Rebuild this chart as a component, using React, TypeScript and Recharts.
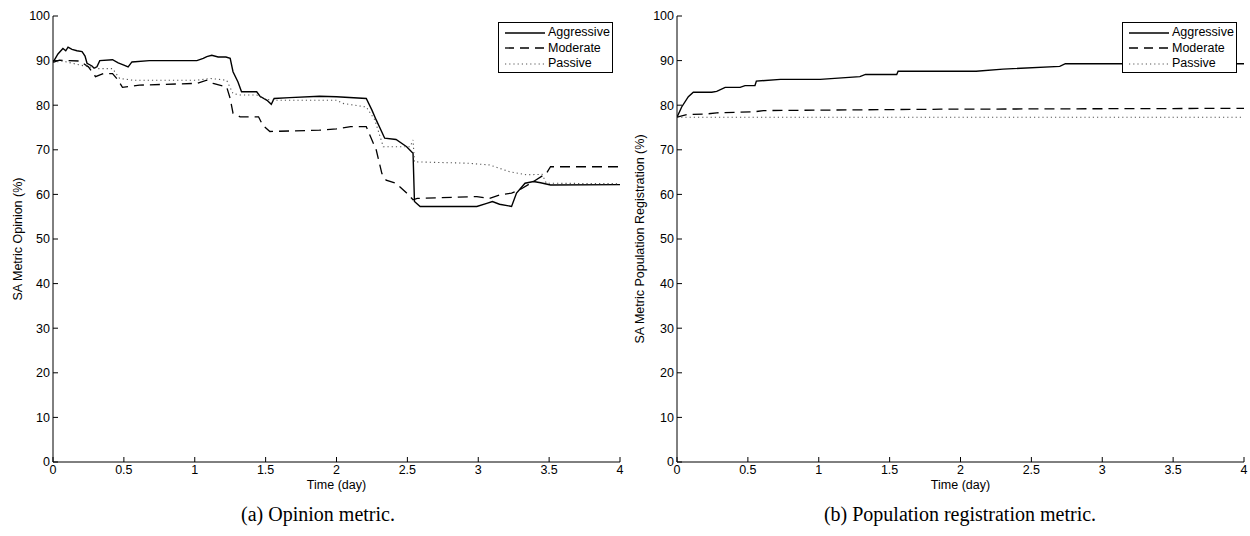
import React from 'react';
import { LineChart, Line, XAxis, YAxis, Label } from 'recharts';

type Pt = [number, number];

// ---------- data (time in days, value in %) ----------
const xTicks = [0, 0.5, 1, 1.5, 2, 2.5, 3, 3.5, 4];
const yTicks = [0, 10, 20, 30, 40, 50, 60, 70, 80, 90, 100];
const seriesNames = ['Aggressive', 'Moderate', 'Passive'];

const opinionAggressive: Pt[] = [
  [0, 89.6], [0.035, 91.5], [0.07, 92.7], [0.09, 92.2], [0.106, 93.0], [0.134, 92.5], [0.169, 92.2], [0.205, 92.0],
  [0.226, 91.0], [0.24, 89.4], [0.275, 88.8], [0.29, 88.3], [0.31, 88.6], [0.33, 90.0], [0.42, 90.2], [0.46, 89.5],
  [0.5, 89.0], [0.53, 88.6], [0.557, 89.7], [0.68, 90.0], [1.015, 90.0], [1.06, 90.5], [1.085, 90.9],
  [1.12, 91.2], [1.165, 90.8], [1.22, 90.8], [1.25, 90.5], [1.27, 87.5], [1.305, 85.2], [1.33, 83.0],
  [1.437, 83.0], [1.46, 82.0], [1.51, 81.1], [1.54, 80.2], [1.56, 81.5], [1.67, 81.7], [1.88, 82.0],
  [2.0, 81.9], [2.21, 81.5], [2.25, 78.9], [2.28, 76.7], [2.34, 72.6], [2.42, 72.3], [2.495, 70.7],
  [2.54, 69.2], [2.55, 58.4], [2.59, 57.3], [2.99, 57.3], [3.06, 58.0], [3.1, 58.4], [3.15, 57.8],
  [3.235, 57.3], [3.27, 60.3], [3.33, 62.5], [3.39, 62.9], [3.44, 62.6], [3.51, 62.1], [4.0, 62.2],
];
const opinionModerate: Pt[] = [
  [0, 89.6], [0.045, 90.1], [0.19, 89.9], [0.25, 88.6], [0.3, 86.4], [0.355, 87.1], [0.42, 87.1],
  [0.46, 85.6], [0.49, 84.0], [0.61, 84.5], [1.015, 84.9], [1.085, 85.6], [1.13, 84.9], [1.225, 84.1],
  [1.25, 81.5], [1.27, 78.2], [1.32, 77.4], [1.45, 77.4], [1.48, 75.5], [1.53, 74.1], [1.88, 74.4],
  [2.0, 74.7], [2.1, 75.2], [2.21, 75.2], [2.25, 72.2], [2.28, 70.0], [2.32, 64.7], [2.35, 63.2],
  [2.42, 62.5], [2.495, 60.3], [2.54, 58.8], [2.57, 59.1], [2.99, 59.5], [3.08, 59.1], [3.155, 59.9],
  [3.235, 60.3], [3.29, 61.0], [3.39, 62.9], [3.48, 64.7], [3.51, 66.2], [4.0, 66.2],
];
const opinionPassive: Pt[] = [
  [0, 89.6], [0.07, 89.9], [0.19, 89.0], [0.26, 88.6], [0.31, 88.2], [0.42, 88.2], [0.47, 86.0],
  [0.565, 85.6], [1.015, 85.6], [1.11, 86.0], [1.225, 85.6], [1.27, 82.6], [1.32, 82.3], [1.437, 82.3],
  [1.48, 81.5], [1.55, 81.1], [2.0, 81.1], [2.045, 80.4], [2.21, 79.6], [2.27, 76.7], [2.33, 70.7],
  [2.52, 70.7], [2.54, 72.2], [2.55, 67.3], [2.92, 67.0], [3.08, 66.6], [3.22, 65.1], [3.34, 64.4],
  [3.45, 64.5], [3.48, 62.5], [4.0, 62.4],
];

const registrationAggressive: Pt[] = [
  [0, 77.3], [0.033, 79.6], [0.08, 81.9], [0.115, 82.9], [0.245, 82.9], [0.28, 83.1], [0.34, 84.0],
  [0.445, 84.0], [0.48, 84.4], [0.55, 84.4], [0.56, 85.4], [0.73, 85.8], [1.01, 85.8], [1.29, 86.4],
  [1.33, 86.9], [1.55, 86.9], [1.56, 87.6], [2.11, 87.6], [2.3, 88.1], [2.7, 88.7], [2.74, 89.3],
  [4.0, 89.3],
];
const registrationModerate: Pt[] = [
  [0, 77.3], [0.07, 77.9], [0.2, 78.0], [0.28, 78.3], [0.54, 78.5], [0.61, 78.8], [1.86, 79.1],
  [2.9, 79.2], [4.0, 79.3],
];
const registrationPassive: Pt[] = [
  [0, 77.3], [4.0, 77.3],
];

// ---------- styling ----------
const FONT = '"Liberation Sans", Arial, Helvetica, sans-serif';
const FS = 12.5;
const styles = [
  { stroke: '#000', width: 1.4, dash: undefined as string | undefined },
  { stroke: '#000', width: 1.3, dash: '10 6' },
  { stroke: '#555', width: 1.1, dash: '1.2 3' },
];

const toRows = (pts: Pt[]) => pts.map(([t, v]) => ({ t, v }));

const LegendBox = (props: { left: number; top: number }) => (
  <div
    style={{
      position: 'absolute',
      left: props.left,
      top: props.top,
      width: 115,
      height: 51,
      boxSizing: 'border-box',
      border: '1.3px solid #000',
      background: '#fff',
      padding: '2px 0 0 6px',
      fontFamily: FONT,
      fontSize: 12.5,
      lineHeight: '15.5px',
      color: '#000',
    }}
  >
    {seriesNames.map((n, i) => (
      <div key={n} style={{ display: 'flex', alignItems: 'center', height: 15.5 }}>
        <svg width={42} height={10} style={{ marginRight: 1 }}>
          <line
            x1={0}
            y1={5}
            x2={40}
            y2={5}
            stroke={styles[i].stroke}
            strokeWidth={styles[i].width}
            strokeDasharray={i === 1 ? '9 6' : styles[i].dash}
          />
        </svg>
        <span>{n}</span>
      </div>
    ))}
  </div>
);

const yTitle = (text: string, dx: number) => (props: any) => {
  const vb = props.viewBox || {};
  const cx = (vb.x ?? 0) + dx;
  const cy = (vb.y ?? 0) + (vb.height ?? 0) / 2;
  return (
    <text
      x={cx}
      y={cy}
      transform={`rotate(-90, ${cx}, ${cy})`}
      textAnchor="middle"
      dominantBaseline="central"
      fontFamily={FONT}
      fontSize={FS}
      fill="#000"
    >
      {text}
    </text>
  );
};

const xTitle = (props: any) => {
  const vb = props.viewBox || {};
  const cx = (vb.x ?? 0) + (vb.width ?? 0) / 2;
  const cy = (vb.y ?? 0) + 27;
  return (
    <text x={cx} y={cy} textAnchor="middle" fontFamily={FONT} fontSize={FS} fill="#000">
      Time (day)
    </text>
  );
};

const tickStyle = { fontFamily: FONT, fontSize: FS, fill: '#000' };

function Panel(props: {
  left: number;
  width: number;
  marginRight: number;
  yLabel: string;
  yLabelDx: number;
  data: Pt[][];
}) {
  return (
    <div style={{ position: 'absolute', left: props.left, top: 0, width: props.width, height: 500 }}>
      <LineChart
        width={props.width}
        height={500}
        margin={{ top: 16, right: props.marginRight, left: 0, bottom: 8 }}
      >
        <XAxis
          type="number"
          dataKey="t"
          domain={[0, 4]}
          ticks={xTicks}
          allowDataOverflow
          height={30}
          tickSize={-5}
          tickMargin={8}
          tick={tickStyle}
          stroke="#000"
          tickLine={{ stroke: '#000' }}
          axisLine={{ stroke: '#000' }}
        >
          <Label content={xTitle} />
        </XAxis>
        <YAxis
          type="number"
          domain={[0, 100]}
          ticks={yTicks}
          width={53}
          tickSize={-5}
          tickMargin={8}
          tick={tickStyle}
          stroke="#000"
          tickLine={{ stroke: '#000' }}
          axisLine={{ stroke: '#000' }}
        >
          <Label content={yTitle(props.yLabel, props.yLabelDx)} />
        </YAxis>
        {props.data.map((pts, i) => (
          <Line
            key={seriesNames[i]}
            name={seriesNames[i]}
            data={toRows(pts)}
            dataKey="v"
            type="linear"
            stroke={styles[i].stroke}
            strokeWidth={styles[i].width}
            strokeDasharray={styles[i].dash}
            dot={false}
            activeDot={false}
            isAnimationActive={false}
          />
        ))}
      </LineChart>
      <LegendBox left={498} top={22} />
    </div>
  );
}

const captionStyle: React.CSSProperties = {
  position: 'absolute',
  top: 503,
  width: 500,
  textAlign: 'center',
  fontFamily: '"Liberation Serif", "Times New Roman", serif',
  fontSize: 20,
  color: '#000',
  whiteSpace: 'nowrap',
};

export default function App() {
  return (
    <div
      style={{
        position: 'absolute',
        left: 0,
        top: 0,
        width: 1250,
        height: 536,
        background: '#fff',
        overflow: 'hidden',
      }}
    >
      <Panel
        left={0}
        width={640}
        marginRight={20}
        yLabel="SA Metric Opinion (%)"
        yLabelDx={18}
        data={[opinionAggressive, opinionModerate, opinionPassive]}
      />
      <Panel
        left={624}
        width={626}
        marginRight={6}
        yLabel="SA Metric Population Registration (%)"
        yLabelDx={16}
        data={[registrationAggressive, registrationModerate, registrationPassive]}
      />
      <div style={{ ...captionStyle, left: 318 - 250 }}>(a) Opinion metric.</div>
      <div style={{ ...captionStyle, left: 960 - 250 }}>(b) Population registration metric.</div>
    </div>
  );
}
